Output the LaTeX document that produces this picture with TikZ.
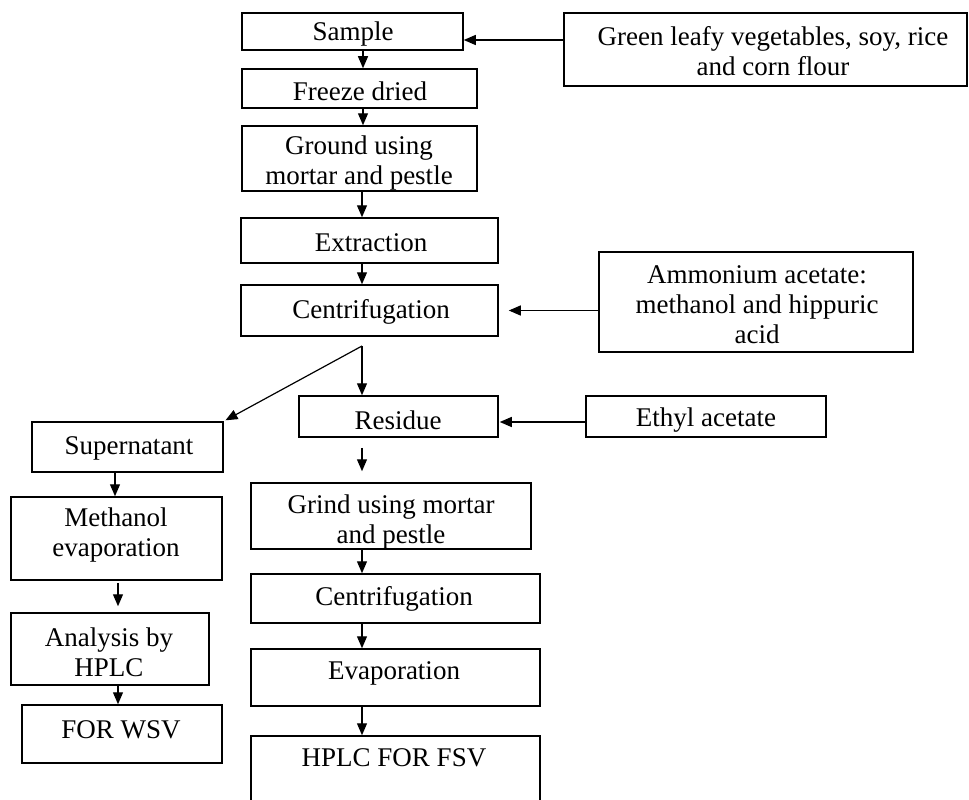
\documentclass[tikz,border=0pt]{standalone}
\usepackage{fontspec}
\setmainfont{Liberation Serif}
\usetikzlibrary{arrows.meta}
\tikzset{
  box/.style={draw, line width=1.5pt, inner sep=0pt},
  txt/.style={align=center, inner sep=0pt, yshift=-3pt, font=\fontsize{27}{30}\selectfont},
  arr/.style={draw, line width=1.2pt, -{Triangle[length=12pt,width=10pt]}},
  plain/.style={draw, line width=1.2pt}
}
\newcommand{\bx}[8]{%
  \node[box, minimum width={#4-#2}, minimum height={#5-#3}] (#1) at ({(#2+#4)/2},{(#3+#5)/2}) {};
  \node[txt] (#1t) at (#6,#7) {#8};}
\begin{document}
\begin{tikzpicture}[x=1pt,y=-1pt]
\useasboundingbox (0,0) rectangle (969,800);
\fill[white] (0,0) rectangle (969,800);
\clip (0,0) rectangle (969,800);

% main column
\bx{sample}{242}{13}{463}{50}{353}{31}{Sample}
\bx{freeze}{242}{69}{477}{108}{360}{88}{Freeze dried}
\bx{ground}{242}{126}{477}{191}{359}{160}{Ground using\\mortar and pestle}
\bx{extr}{241}{218}{498}{263}{371}{240}{Extraction}
\bx{cenA}{241}{285}{498}{336}{371}{309}{Centrifugation}
% inputs on the right
\bx{green}{564}{13}{967}{86}{773}{48}{Green leafy vegetables, soy, rice\\and corn flour}
\bx{amm}{599}{252}{913}{352}{757}{302}{Ammonium acetate:\\methanol and hippuric\\acid}
\bx{ethyl}{586}{396}{826}{437}{706}{417}{Ethyl acetate}
% residue branch
\bx{residue}{299}{396}{498}{437}{398}{417}{Residue}
\bx{grind}{251}{483}{531}{549}{391}{519}{Grind using mortar\\and pestle}
\bx{cenB}{251}{574}{540}{623}{394}{596}{Centrifugation}
\bx{evap}{251}{649}{540}{706}{394}{670}{Evaporation}
\bx{fsv}{251}{736}{540}{830}{394}{755}{HPLC FOR FSV}
% supernatant branch
\bx{super}{32}{422}{223}{472}{129}{445}{Supernatant}
\bx{meth}{11}{497}{222}{580}{116}{532}{Methanol\\evaporation}
\bx{anal}{11}{613}{209}{685}{109}{649}{Analysis by\\HPLC}
\bx{wsv}{22}{705}{222}{763}{121}{727}{FOR WSV}

% helper columns
\coordinate (cT) at (363,0);
\coordinate (cA) at (362,0);
\coordinate (cS) at (115,0);
\coordinate (cB) at (118,0);
\coordinate (split) at (362,346);
\coordinate (yG) at (0,40);
\coordinate (yE) at (0,422);

% connectors
\draw[arr] (green.west |- yG) -- (sample.east |- yG);
\draw[arr] (sample.south -| cT) -- (freeze.north -| cT);
\draw[arr] (freeze.south -| cT) -- (ground.north -| cT);
\draw[arr] (ground.south -| cA) -- (extr.north -| cA);
\draw[arr] (extr.south -| cA) -- (cenA.north -| cA);
\draw[arr, shorten >=10pt] (amm.west |- cenA.east) -- (cenA.east);
\draw[arr] (split) -- (residue.north -| split);
\draw[arr, shorten >=2pt] (split) -- (super.north east);
\draw[arr, shorten >=1pt] (ethyl.west |- yE) -- (residue.east |- yE);
\draw[arr, shorten <=10pt, shorten >=11pt] (residue.south -| cA) -- (grind.north -| cA);
\draw[arr] (grind.south -| cA) -- (cenB.north -| cA);
\draw[arr] (cenB.south -| cA) -- (evap.north -| cA);
\draw[arr] (evap.south -| cA) -- (fsv.north -| cA);
\draw[arr] (super.south -| cS) -- (meth.north -| cS);
\draw[arr, shorten <=2pt, shorten >=6pt] (meth.south -| cB) -- (anal.north -| cB);
\draw[arr] (anal.south -| cB) -- (wsv.north -| cB);
\end{tikzpicture}
\end{document}
